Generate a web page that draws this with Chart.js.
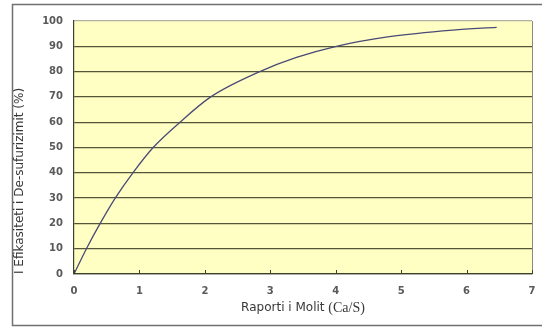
<!DOCTYPE html>
<html>
<head>
<meta charset="utf-8">
<script src="https://cdn.jsdelivr.net/npm/chart.js@4"></script>
<style>
  html, body { margin: 0; padding: 0; background: #ffffff; }
  #wrap { width: 542px; height: 327px; }
</style>
</head>
<body>
<div id="wrap"><canvas id="c" width="542" height="327"></canvas></div>
<script>
// Ca/S molar ratio and desulfurization efficiency (%)
const ratios     = [0, 0.19, 0.40, 0.63, 0.90, 1.21, 1.62, 2.09, 2.84, 3.40, 4.01, 4.82, 5.79, 6.46];
const efficiency = [0, 10,   20,   30,   40,   50,   60,   70,   80,   85.6, 90,   93.8, 96.4, 97.5];
const xTicks = [0, 1, 2, 3, 4, 5, 6, 7];
const yTicks = [0, 10, 20, 30, 40, 50, 60, 70, 80, 90, 100];
const yTitle = 'I Efikasiteti i De-sufurizimit (%)';
const xTitleMain = 'Raporti i Molit';
const xTitleUnit = '(Ca/S)';

const points = ratios.map((r, i) => ({ x: r, y: efficiency[i] }));

const sansFamily = '"DejaVu Sans", Verdana, sans-serif';

// Outer frame and yellow plot background
const framePlugin = {
  id: 'frame',
  beforeDraw(chart) {
    const { ctx, chartArea: a } = chart;
    ctx.save();
    ctx.fillStyle = '#ffffff';
    ctx.fillRect(0, 0, chart.width, chart.height);
    ctx.strokeStyle = '#707070';
    ctx.lineWidth = 1.5;
    ctx.strokeRect(12.5, 4.5, 540, 321);
    ctx.fillStyle = '#ffffc4';
    ctx.fillRect(a.left, a.top, a.right - a.left, a.bottom - a.top);
    ctx.restore();
  },
  afterDraw(chart) {
    const { ctx, chartArea: a, scales } = chart;
    ctx.save();
    // right edge of plot area
    ctx.strokeStyle = '#8a8a80';
    ctx.lineWidth = 1;
    ctx.beginPath();
    ctx.moveTo(a.right + 0.5, a.top);
    ctx.lineTo(a.right + 0.5, a.bottom);
    ctx.stroke();
    // small inward tick marks on the x axis
    ctx.strokeStyle = '#404030';
    xTicks.forEach(v => {
      const px = Math.round(scales.x.getPixelForValue(v)) + 0.5;
      ctx.beginPath();
      ctx.moveTo(px, a.bottom);
      ctx.lineTo(px, a.bottom - 4);
      ctx.stroke();
    });
    // x axis title with serif unit
    const mainFont = '12px ' + sansFamily;
    const unitFont = '14px "Liberation Serif", "Times New Roman", serif';
    ctx.font = mainFont;
    const w1 = ctx.measureText(xTitleMain + ' ').width;
    ctx.font = unitFont;
    const w2 = ctx.measureText(xTitleUnit).width;
    const cx = (a.left + a.right) / 2;
    const y = 308;
    const x = cx - (w1 + w2) / 2;
    ctx.fillStyle = '#383838';
    ctx.textBaseline = 'middle';
    ctx.textAlign = 'left';
    ctx.font = mainFont;
    ctx.fillText(xTitleMain + ' ', x, y);
    ctx.font = unitFont;
    ctx.fillText(xTitleUnit, x + w1, y + 0.5);
    ctx.restore();
  }
};

new Chart(document.getElementById('c'), {
  type: 'line',
  data: {
    datasets: [{
      data: points,
      borderColor: '#4a4a78',
      borderWidth: 1.3,
      pointRadius: 0,
      fill: false,
      cubicInterpolationMode: 'monotone'
    }]
  },
  options: {
    responsive: false,
    animation: false,
    devicePixelRatio: 1,
    layout: { padding: { left: 0, top: 21, right: 0, bottom: 0 } },
    plugins: { legend: { display: false }, tooltip: { enabled: false } },
    scales: {
      x: {
        type: 'linear',
        min: 0, max: 7,
        afterBuildTicks: s => { s.ticks = xTicks.map(v => ({ value: v })); },
        afterFit: s => { s.height = 53; s.paddingRight = 10; },
        grid: { display: false, drawTicks: false },
        border: { display: true, color: '#404030', width: 1.2 },
        ticks: {
          padding: 11,
          color: '#5a5a5a',
          font: { family: sansFamily, size: 10, weight: 'bold' }
        }
      },
      y: {
        min: 0, max: 100,
        afterBuildTicks: s => { s.ticks = yTicks.map(v => ({ value: v })); },
        afterFit: s => { s.width = 74; },
        grid: {
          drawTicks: false,
          color: ctx => (ctx.tick && ctx.tick.value === 100) ? '#b0b0a0' : '#55553a',
          lineWidth: 1.3
        },
        border: { display: true, color: '#404030', width: 1.2 },
        title: {
          display: true,
          text: yTitle,
          align: 'start',
          color: '#383838',
          font: { family: sansFamily, size: 12 },
          padding: { top: 13, bottom: 0 }
        },
        ticks: {
          padding: 11,
          color: '#5a5a5a',
          font: { family: sansFamily, size: 10, weight: 'bold' }
        }
      }
    }
  },
  plugins: [framePlugin]
});
</script>
</body>
</html>
